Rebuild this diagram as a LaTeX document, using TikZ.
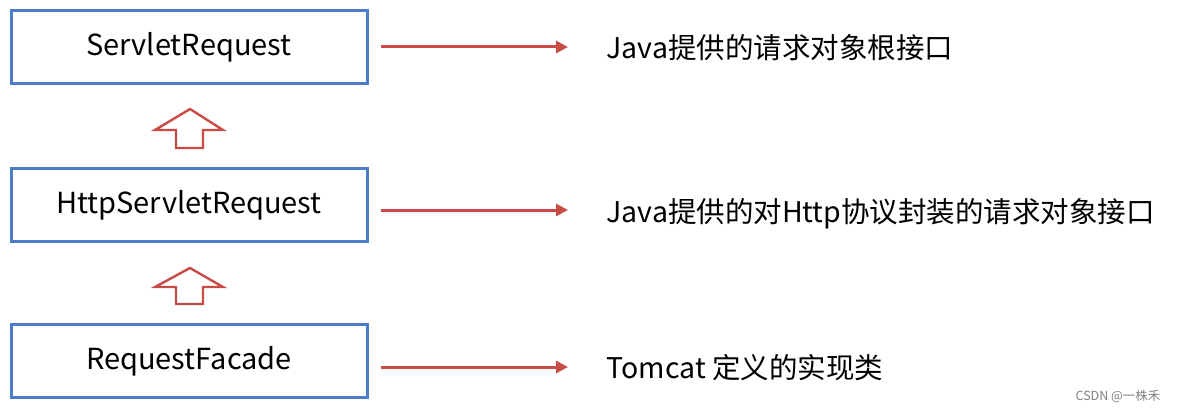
\documentclass[tikz,border=0pt]{standalone}
\usepackage{fontspec}
\setmainfont{Noto Sans CJK SC}
\usetikzlibrary{arrows.meta}
\definecolor{bblue}{RGB}{75,125,200}
\definecolor{rred}{RGB}{200,75,70}
\tikzset{box/.style={draw=bblue,line width=3pt,minimum width=356pt,minimum height=73pt,font=\fontsize{29}{34}\selectfont},
conn/.style={draw=rred,line width=3pt,-{Triangle[length=12pt,width=12pt]}},
lab/.style={anchor=west,font=\fontsize{28.5}{34}\selectfont},
up/.style={draw=rred,line width=2.4pt,fill=white}}
\begin{document}
\begin{tikzpicture}[x=1pt,y=-1pt]
\useasboundingbox (0,0) rectangle (1177,412);
\node[box] (a) at (189,47) {ServletRequest};
\node[box] (b) at (189,205) {HttpServletRequest};
\node[box] (c) at (189,361) {RequestFacade};
\node[lab] (ta) at (603,48) {Java提供的请求对象根接口};
\node[lab] (tb) at (603,214) {Java提供的对Http协议封装的请求对象接口};
\node[lab] (tc) at (603,368) {Tomcat 定义的实现类};
\coordinate (ea) at (568,47);
\coordinate (eb) at (568,210);
\coordinate (ec) at (568,367);
\draw[conn] (a.east) ++(12,0) -- (ea);
\draw[conn] (b.east) ++(12,5) -- (eb);
\draw[conn] (c.east) ++(12,6) -- (ec);
\draw[up] (190,109) -- (223,130) -- (203,130) -- (203,148) -- (176,148) -- (176,130) -- (155,130) -- cycle;
\draw[up] (190,268) -- (223,287) -- (203,287) -- (203,304) -- (176,304) -- (176,287) -- (155,287) -- cycle;
\node[anchor=east,text=gray,font=\fontsize{12.5}{15}\selectfont] (w) at (1164,396) {CSDN @一株禾};
\end{tikzpicture}
\end{document}
